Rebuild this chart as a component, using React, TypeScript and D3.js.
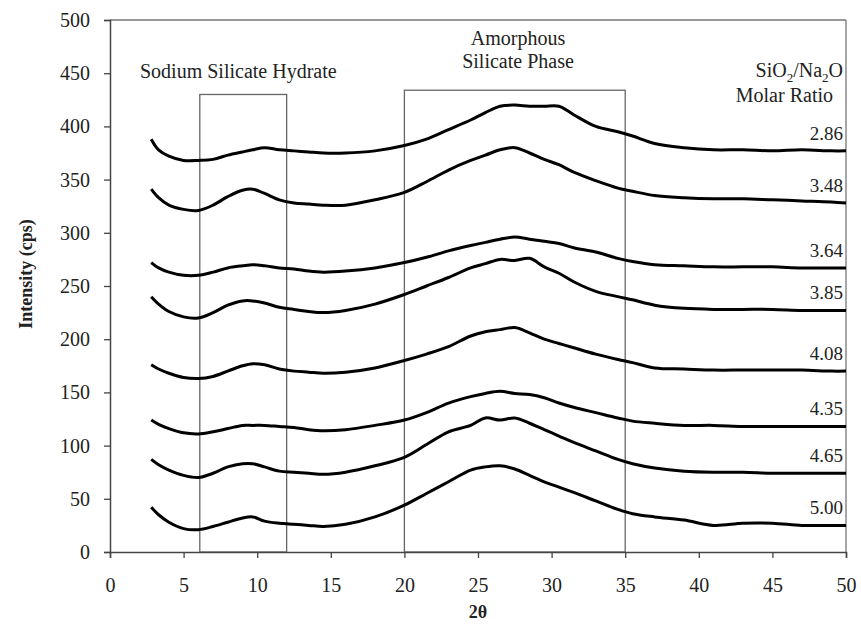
import React, { useEffect, useRef } from 'react';
import * as d3 from 'd3';

const twoTheta = [2.8, 3.3, 4, 5, 6, 7, 8, 9, 9.7, 10.5, 11.5, 12.5, 13.5, 14.5, 16, 18, 20, 21.5, 23, 24.5, 25.5, 26.5, 27.5, 28.5, 29.5, 30.5, 31.5, 33, 34.5, 35.5, 37, 39, 41, 43, 45, 47, 49, 50];

// molar ratios (series labels)
const ratios = ['2.86', '3.48', '3.64', '3.85', '4.08', '4.35', '4.65', '5.00'];

// intensity (cps) for each ratio
const r286 = [388, 378, 372, 368, 368, 369, 373, 376, 378, 380, 378, 377, 376, 375, 375, 377, 382, 388, 397, 406, 413, 419, 420, 419, 419, 419, 411, 400, 395, 391, 384, 380, 378, 378, 377, 378, 377, 377];
const r348 = [341, 333, 326, 322, 321, 326, 334, 340, 341, 337, 331, 328, 327, 326, 326, 331, 338, 348, 359, 368, 373, 378, 380, 375, 369, 364, 357, 349, 342, 339, 335, 333, 332, 332, 331, 330, 329, 328];
const r364 = [272, 267, 263, 260, 260, 263, 267, 269, 270, 269, 267, 266, 264, 263, 264, 267, 272, 277, 283, 288, 291, 294, 296, 294, 292, 290, 286, 282, 276, 273, 270, 269, 268, 268, 268, 267, 267, 267];
const r385 = [240, 233, 226, 221, 220, 225, 232, 236, 236, 234, 230, 228, 226, 225, 227, 233, 242, 250, 258, 267, 271, 275, 274, 276, 268, 262, 254, 245, 240, 237, 232, 229, 228, 228, 228, 227, 227, 227];
const r408 = [176, 172, 168, 164, 163, 165, 170, 175, 177, 176, 172, 170, 169, 168, 169, 173, 180, 186, 193, 203, 207, 209, 211, 206, 200, 196, 192, 186, 181, 178, 173, 172, 171, 171, 171, 171, 170, 170];
const r435 = [124, 120, 116, 112, 111, 113, 116, 119, 119, 119, 118, 117, 115, 114, 115, 119, 124, 131, 140, 146, 149, 151, 149, 148, 145, 140, 136, 131, 126, 123, 121, 119, 119, 118, 118, 118, 118, 118];
const r465 = [87, 82, 77, 72, 70, 74, 80, 83, 83, 80, 76, 75, 74, 73, 75, 81, 89, 101, 113, 119, 126, 124, 126, 121, 115, 109, 103, 95, 87, 83, 79, 76, 75, 75, 74, 74, 74, 74];
const r500 = [42, 35, 28, 22, 21, 24, 28, 32, 33, 29, 27, 26, 25, 24, 26, 33, 44, 55, 66, 77, 80, 81, 78, 72, 66, 61, 56, 48, 40, 36, 33, 30, 25, 27, 27, 25, 25, 25];

const seriesValues = [r286, r348, r364, r385, r408, r435, r465, r500];

// phase regions (2-theta range and box top in cps)
const hydrateBox = [6.1, 12, 430];
const amorphousBox = [20, 35, 434];

const xTicks = [0, 5, 10, 15, 20, 25, 30, 35, 40, 45, 50];
const yTicks = [0, 50, 100, 150, 200, 250, 300, 350, 400, 450, 500];

const App = () => {
    const svgRef = useRef<SVGSVGElement>(null);

    useEffect(() => {
        const svg = d3.select(svgRef.current);
        svg.selectAll('*').remove();

        const width = 861;
        const height = 633;
        const font = 'Liberation Serif';

        svg.attr('width', width).attr('height', height).attr('font-family', font);
        svg.append('rect').attr('width', width).attr('height', height).attr('fill', 'white');

        const x = d3.scaleLinear().domain([0, 50]).range([110, 846]);
        const y = d3.scaleLinear().domain([0, 500]).range([552, 20]);

        // frame (top / right)
        svg.append('line')
            .attr('x1', x(0)).attr('x2', x(50))
            .attr('y1', y(500)).attr('y2', y(500))
            .attr('stroke', '#777').attr('stroke-width', 1.3);
        svg.append('line')
            .attr('x1', x(50)).attr('x2', x(50))
            .attr('y1', y(500)).attr('y2', y(0))
            .attr('stroke', '#777').attr('stroke-width', 1.3);

        // phase boxes
        [hydrateBox, amorphousBox].forEach(b => {
            svg.append('rect')
                .attr('x', x(b[0]))
                .attr('y', y(b[2]))
                .attr('width', x(b[1]) - x(b[0]))
                .attr('height', y(0) - y(b[2]))
                .attr('fill', 'none')
                .attr('stroke', '#666')
                .attr('stroke-width', 1.3);
        });

        // axes
        const xAxis = svg.append('g')
            .attr('transform', `translate(0,${y(0)})`)
            .call(d3.axisBottom(x).tickValues(xTicks).tickSize(6).tickPadding(20));
        const yAxis = svg.append('g')
            .attr('transform', `translate(${x(0)},0)`)
            .call(d3.axisLeft(y).tickValues(yTicks).tickSize(6).tickPadding(14));

        [xAxis, yAxis].forEach(g => {
            g.attr('font-family', font).attr('font-size', 20);
            g.select('.domain').attr('stroke', '#444').attr('stroke-width', 1.5);
            g.selectAll('.tick line').attr('stroke', '#444').attr('stroke-width', 1.3);
            g.selectAll('.tick text').attr('fill', '#222');
        });

        // traces
        const line = d3.line<number>()
            .x((d, i) => x(twoTheta[i]))
            .y(d => y(d))
            .curve(d3.curveCatmullRom.alpha(0.5));

        seriesValues.forEach((vals, i) => {
            svg.append('path')
                .datum(vals)
                .attr('d', line)
                .attr('fill', 'none')
                .attr('stroke', '#000')
                .attr('stroke-width', 3)
                .attr('stroke-linejoin', 'round');

            svg.append('text')
                .attr('x', x(50) - 3)
                .attr('y', y(vals[vals.length - 1]) - 11)
                .attr('text-anchor', 'end')
                .attr('font-size', 19)
                .attr('fill', '#222')
                .text(ratios[i]);
        });

        // annotations
        svg.append('text')
            .attr('x', 140).attr('y', 78)
            .attr('font-size', 20)
            .attr('fill', '#222')
            .text('Sodium Silicate Hydrate');

        svg.append('text')
            .attr('x', 518).attr('y', 45)
            .attr('text-anchor', 'middle')
            .attr('font-size', 20)
            .attr('fill', '#222')
            .text('Amorphous');
        svg.append('text')
            .attr('x', 518).attr('y', 68)
            .attr('text-anchor', 'middle')
            .attr('font-size', 20)
            .attr('fill', '#222')
            .text('Silicate Phase');

        const ratioTitle = svg.append('text')
            .attr('x', 843).attr('y', 77)
            .attr('text-anchor', 'end')
            .attr('font-size', 20)
            .attr('fill', '#222');
        ratioTitle.append('tspan').text('SiO');
        ratioTitle.append('tspan').attr('dy', 5).attr('font-size', 13).text('2');
        ratioTitle.append('tspan').attr('dy', -5).text('/Na');
        ratioTitle.append('tspan').attr('dy', 5).attr('font-size', 13).text('2');
        ratioTitle.append('tspan').attr('dy', -5).text('O');

        svg.append('text')
            .attr('x', 833).attr('y', 102)
            .attr('text-anchor', 'end')
            .attr('font-size', 20)
            .attr('fill', '#222')
            .text('Molar Ratio');

        // axis titles
        svg.append('text')
            .attr('transform', `translate(32,274) rotate(-90)`)
            .attr('text-anchor', 'middle')
            .attr('font-size', 18).attr('font-weight', 'bold')
            .attr('fill', '#222')
            .text('Intensity (cps)');

        svg.append('text')
            .attr('x', 478).attr('y', 618)
            .attr('text-anchor', 'middle')
            .attr('font-size', 18).attr('font-weight', 'bold')
            .attr('fill', '#222')
            .text('2θ');
    }, []);

    return (
        <svg ref={svgRef} style={{ position: 'absolute', left: 0, top: 0 }}></svg>
    );
};

export default App;
